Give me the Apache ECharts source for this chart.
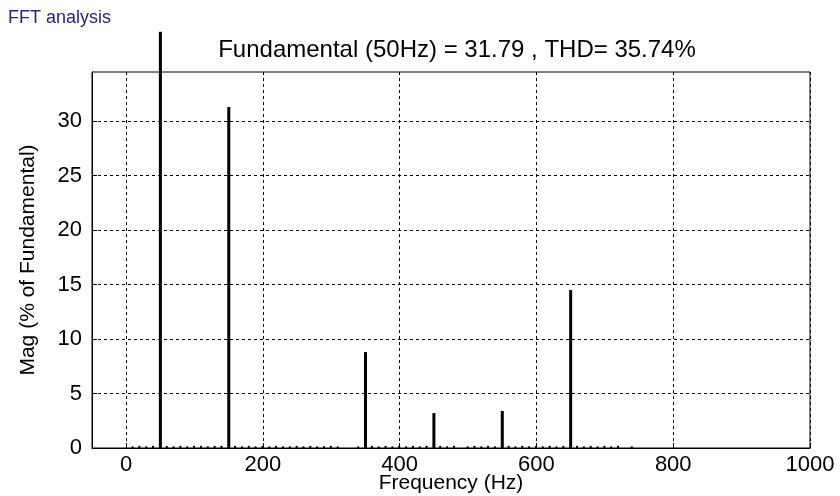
<!DOCTYPE html>
<html>
<head>
<meta charset="utf-8">
<script src="https://cdn.jsdelivr.net/npm/echarts@6/dist/echarts.min.js"></script>
<style>
  html, body { margin: 0; padding: 0; background: #fff; }
  #fft { width: 840px; height: 496px; }
</style>
</head>
<body>
<div id="fft"></div>
<script>
// harmonic peaks (Hz, % of fundamental); the 50 Hz bar is cut off in the picture
var harmonicFreqs = [50, 150, 350, 450, 550, 650];
var harmonicMags = [38.2, 31.3, 8.8, 3.2, 3.4, 14.5];

// small residual components along the baseline
var noiseFreqs = [10, 20, 30, 40, 60, 70, 80, 90, 100, 110, 120, 130, 140, 160, 170, 180, 190, 200,
    210, 220, 230, 240, 250, 260, 270, 280, 290, 300, 310, 340, 360, 370, 380, 390, 400, 410, 420,
    430, 440, 460, 470, 480, 500, 510, 520, 530, 540, 560, 570, 580, 590, 600, 610, 620, 630, 640,
    660, 670, 680, 690, 700, 710, 720, 740];
var noiseMags = [0.15, 0.2, 0.15, 0.2, 0.2, 0.15, 0.2, 0.15, 0.2, 0.2, 0.15, 0.2, 0.2, 0.2, 0.15, 0.2, 0.15, 0.2,
    0.15, 0.2, 0.15, 0.15, 0.2, 0.15, 0.2, 0.15, 0.15, 0.2, 0.15, 0.15, 0.2, 0.15, 0.2, 0.15, 0.2, 0.15, 0.2,
    0.15, 0.2, 0.2, 0.15, 0.2, 0.15, 0.2, 0.15, 0.2, 0.15, 0.2, 0.15, 0.2, 0.15, 0.2, 0.15, 0.2, 0.15, 0.2,
    0.2, 0.15, 0.2, 0.15, 0.2, 0.15, 0.2, 0.15];

var xTicks = [0, 200, 400, 600, 800, 1000];
var yTicks = [0, 5, 10, 15, 20, 25, 30];

var chartTitle = 'FFT analysis';
var chartSubtitle = 'Fundamental (50Hz) = 31.79 , THD= 35.74%';

function pairs(xs, ys) {
    return xs.map(function (x, i) { return [x, ys[i]]; });
}

var myChart = echarts.init(document.getElementById('fft'));

var font = 'Liberation Sans, Arial, sans-serif';
var gridLine = { show: true, lineStyle: { color: '#000', width: 1, type: [3, 3] } };

var option = {
    backgroundColor: '#fff',
    animation: false,
    title: [
        {
            text: chartTitle,
            left: 3,
            top: 4,
            textStyle: { fontFamily: font, fontSize: 18, fontWeight: 'normal', color: '#26267f' }
        },
        {
            text: chartSubtitle,
            left: 452,
            top: 33,
            textAlign: 'center',
            textStyle: { fontFamily: font, fontSize: 24, fontWeight: 'normal', color: '#000' }
        }
    ],
    grid: {
        left: 92,
        right: 30,
        top: 72,
        bottom: 48,
        outerBoundsMode: 'none',
        containLabel: false,
        show: true,
        borderColor: '#000',
        borderWidth: 1,
        backgroundColor: '#fff'
    },
    xAxis: {
        type: 'value',
        min: -50,
        max: 1000,
        name: 'Frequency (Hz)',
        nameLocation: 'middle',
        nameGap: 25,
        nameMoveOverlap: false,
        nameTextStyle: { fontFamily: font, fontSize: 21, color: '#000' },
        axisLine: { show: true, onZero: false, lineStyle: { color: '#000', width: 1 } },
        axisTick: { show: true, inside: true, length: 5, customValues: xTicks, lineStyle: { color: '#000' } },
        axisLabel: {
            customValues: xTicks,
            margin: 6,
            fontFamily: font,
            fontSize: 22,
            color: '#000',
            formatter: function (v) { return String(v); }
        },
        splitLine: gridLine
    },
    yAxis: {
        type: 'value',
        min: 0,
        max: 34.5,
        name: 'Mag (% of Fundamental)',
        nameLocation: 'middle',
        nameGap: 53,
        nameTextStyle: { fontFamily: font, fontSize: 21, color: '#000' },
        axisLine: { show: true, onZero: false, lineStyle: { color: '#000', width: 1 } },
        axisTick: { show: true, inside: true, length: 5, customValues: yTicks, lineStyle: { color: '#000' } },
        axisLabel: {
            customValues: yTicks,
            margin: 10,
            fontFamily: font,
            fontSize: 22,
            color: '#000',
            formatter: function (v) { return String(v); }
        },
        splitLine: gridLine
    },
    series: [
        {
            name: 'residual',
            type: 'bar',
            barWidth: 2,
            barGap: '-100%',
            itemStyle: { color: '#000' },
            data: pairs(noiseFreqs, noiseMags)
        },
        {
            name: 'harmonics',
            type: 'bar',
            barWidth: 3,
            clip: false,
            itemStyle: { color: '#000' },
            data: pairs(harmonicFreqs, harmonicMags)
        }
    ]
};

myChart.setOption(option);
</script>
</body>
</html>
